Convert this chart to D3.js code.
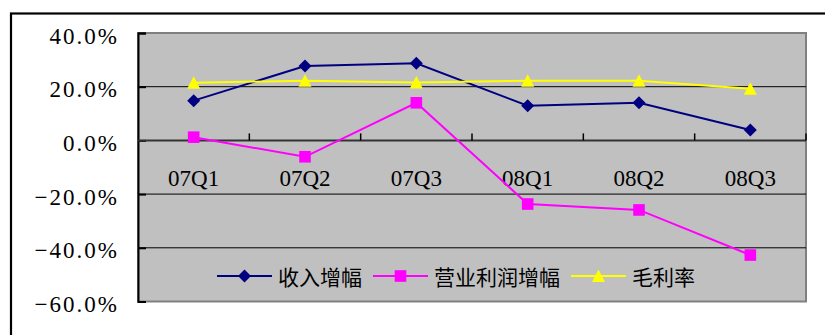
<!DOCTYPE html>
<html>
<head>
<meta charset="utf-8">
<script src="https://cdn.jsdelivr.net/npm/d3@7"></script>
<style>
  html, body { margin: 0; padding: 0; background: #fff; }
  svg { display: block; }
</style>
</head>
<body>
<svg id="chart" width="825" height="335"></svg>
<script>
// Quarterly growth figures (%)
const quarters = ["07Q1", "07Q2", "07Q3", "08Q1", "08Q2", "08Q3"];
const revenueGrowth = [14.8, 27.7, 28.7, 12.9, 14.0, 3.9];      // 收入增幅
const opProfitGrowth = [1.2, -6.1, 14.0, -23.7, -25.9, -42.7];  // 营业利润增幅
const grossMargin = [21.5, 22.2, 21.6, 22.2, 22.2, 19.2];       // 毛利率
const yTicks = [40, 20, 0, -20, -40, -60];

const seriesList = [
  { name: "收入增幅", values: revenueGrowth, color: "#000080", marker: "diamond" },
  { name: "营业利润增幅", values: opProfitGrowth, color: "#FF00FF", marker: "square" },
  { name: "毛利率", values: grossMargin, color: "#FFFF00", marker: "triangle" }
];

const svg = d3.select("#chart");
const plot = { left: 138, right: 806, top: 33, bottom: 301.5 };

// outer frame (runs past the right and bottom edges)
svg.append("rect")
  .attr("x", 11).attr("y", 13.5)
  .attr("width", 900).attr("height", 400)
  .attr("fill", "#fff").attr("stroke", "#000").attr("stroke-width", 2.2);

const x = d3.scaleBand().domain(quarters).range([plot.left, plot.right]).padding(0);
const y = d3.scaleLinear().domain([-60, 40]).range([plot.bottom, plot.top]);

// plot area background
svg.append("rect")
  .attr("x", plot.left).attr("y", plot.top)
  .attr("width", plot.right - plot.left).attr("height", plot.bottom - plot.top)
  .attr("fill", "#C0C0C0").attr("stroke", "#808080").attr("stroke-width", 2);

// horizontal gridlines
svg.append("g").selectAll("line")
  .data(yTicks.filter(t => t !== 40 && t !== -60 && t !== 0))
  .join("line")
  .attr("x1", plot.left).attr("x2", plot.right)
  .attr("y1", d => y(d)).attr("y2", d => y(d))
  .attr("stroke", "#000").attr("stroke-width", 1);

// y axis with inside ticks
const yAxis = d3.axisRight(y)
  .tickValues(yTicks)
  .tickSize(8)
  .tickFormat("");
const gy = svg.append("g").attr("transform", `translate(${plot.left},0)`).call(yAxis);
gy.select(".domain").attr("stroke", "#000").attr("stroke-width", 2);
gy.selectAll(".tick line").attr("stroke", "#000").attr("stroke-width", 2);

// y tick labels
svg.append("g").selectAll("text")
  .data(yTicks)
  .join("text")
  .attr("x", 119)
  .attr("y", d => y(d) + 3)
  .attr("text-anchor", "end")
  .attr("dominant-baseline", "central")
  .attr("font-family", "'Liberation Serif', 'DejaVu Serif', serif")
  .attr("font-size", 23)
  .attr("letter-spacing", 2)
  .attr("fill", "#000")
  .text(d => (d < 0 ? "\u2212" : "") + Math.abs(d).toFixed(1) + "%");

// x axis at zero with upward ticks between categories
const y0 = y(0);
svg.append("line")
  .attr("x1", plot.left).attr("x2", plot.right)
  .attr("y1", y0).attr("y2", y0)
  .attr("stroke", "#333").attr("stroke-width", 2);
const bounds = quarters.slice(1).map(q => x(q)).concat([plot.right]);
svg.append("g").selectAll("line")
  .data(bounds)
  .join("line")
  .attr("x1", d => d).attr("x2", d => d)
  .attr("y1", y0).attr("y2", y0 - 7)
  .attr("stroke", "#000").attr("stroke-width", 1.5);

// category labels
svg.append("g").selectAll("text")
  .data(quarters)
  .join("text")
  .attr("x", d => x(d) + x.bandwidth() / 2)
  .attr("y", 186)
  .attr("text-anchor", "middle")
  .attr("font-family", "'Liberation Serif', 'DejaVu Serif', serif")
  .attr("font-size", 23)
  .attr("fill", "#000")
  .text(d => d);

// marker shapes
function drawMarker(g, type, color) {
  if (type === "diamond") {
    g.append("path").attr("d", "M0,-6.5L6.5,0L0,6.5L-6.5,0Z").attr("fill", color);
  } else if (type === "square") {
    g.append("rect").attr("x", -5.8).attr("y", -5.8).attr("width", 11.6).attr("height", 11.6).attr("fill", color);
  } else {
    g.append("path").attr("d", "M0,-6.5L6.5,6L-6.5,6Z").attr("fill", color);
  }
}

const cx = d => x(d) + x.bandwidth() / 2;
const line = d3.line().x(d => cx(d.q)).y(d => y(d.v));

seriesList.forEach(s => {
  const pts = quarters.map((q, i) => ({ q, v: s.values[i] }));
  svg.append("path")
    .datum(pts)
    .attr("d", line)
    .attr("fill", "none")
    .attr("stroke", s.color)
    .attr("stroke-width", 2);
});
seriesList.forEach(s => {
  quarters.forEach((q, i) => {
    const g = svg.append("g").attr("transform", `translate(${cx(q)},${y(s.values[i])})`);
    drawMarker(g, s.marker, s.color);
  });
});

// legend
const legendY = 276;
let lx = 217;
seriesList.forEach(s => {
  const g = svg.append("g");
  g.append("line")
    .attr("x1", lx).attr("x2", lx + 55)
    .attr("y1", legendY).attr("y2", legendY)
    .attr("stroke", s.color).attr("stroke-width", 2);
  drawMarker(g.append("g").attr("transform", `translate(${lx + 27.5},${legendY})`), s.marker, s.color);
  const t = g.append("text")
    .attr("x", lx + 61)
    .attr("y", legendY)
    .attr("dominant-baseline", "central")
    .attr("font-family", "'Noto Sans CJK SC', sans-serif")
    .attr("font-size", 21)
    .attr("fill", "#000")
    .text(s.name);
  lx = lx + 61 + t.node().getComputedTextLength() + 11;
});
</script>
</body>
</html>
